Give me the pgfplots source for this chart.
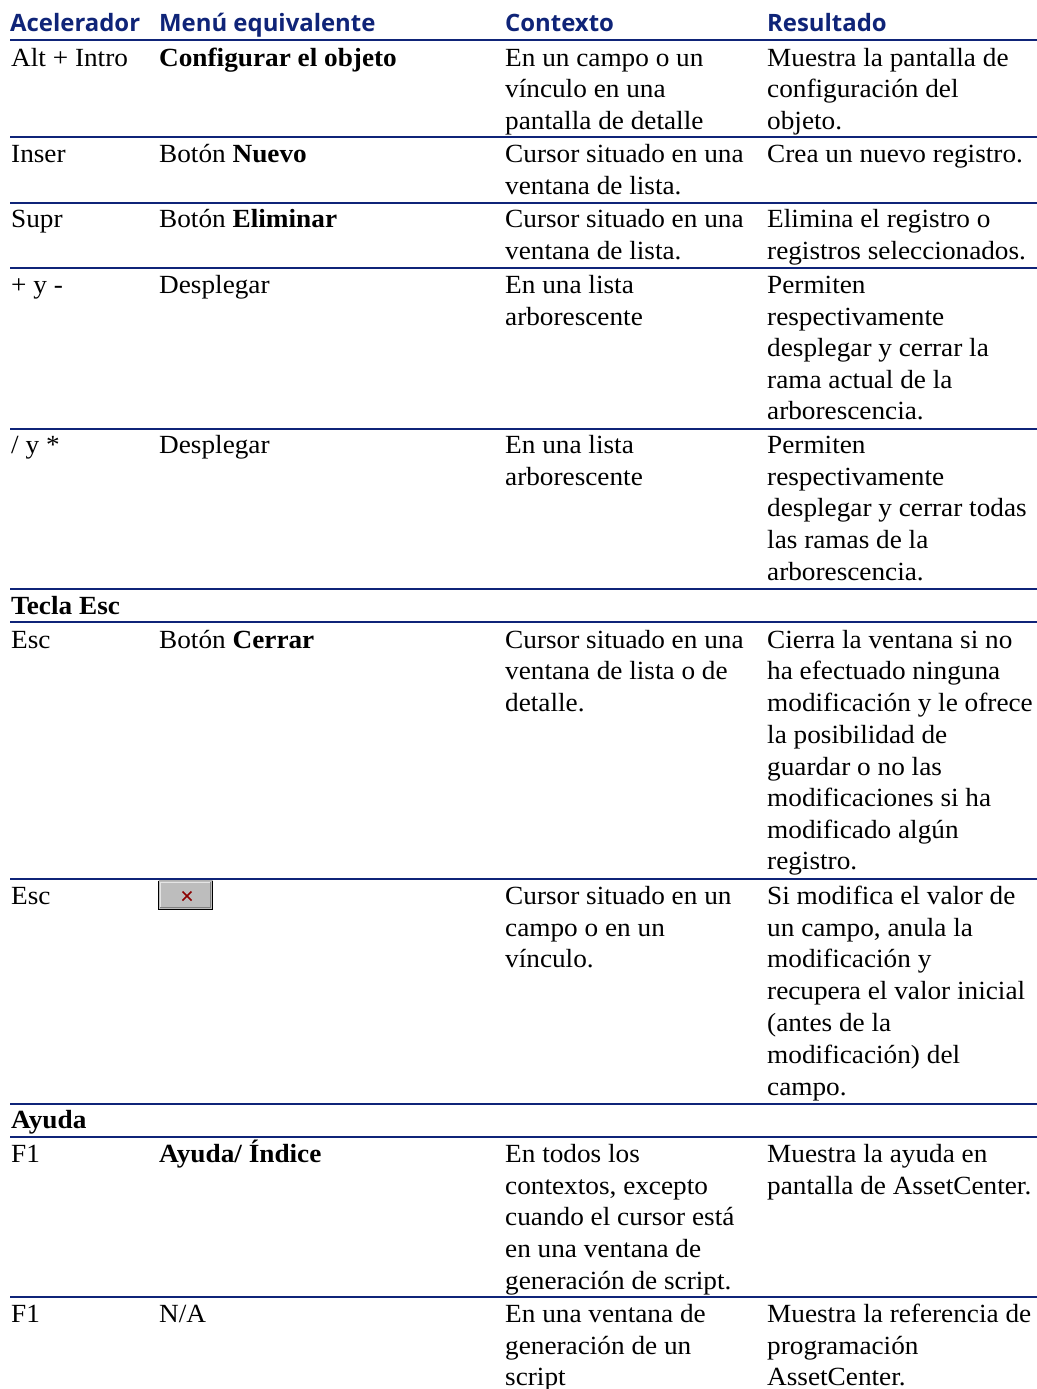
\documentclass[border=0pt]{standalone}
\usepackage{pgfplots}
\pgfplotsset{compat=1.18}
\usepackage{fontspec}
\setmainfont[FakeStretch=1.04]{Liberation Serif}
\newfontfamily\hdfont{Open Sans}
\definecolor{navy}{HTML}{0F2478}
\definecolor{btn}{HTML}{BDBDBD}
\newcommand{\T}[3]{\node[anchor=base west,inner sep=0pt,font=\fontsize{26.3}{30}\selectfont] at (axis cs:#1,#2) {#3};}
\newcommand{\Hd}[2]{\node[anchor=base west,inner sep=0pt,text=navy,font=\hdfont\bfseries\fontsize{24}{30}\selectfont] at (axis cs:#1,32) {#2};}
\newcommand{\Rule}[1]{\addplot[navy,line width=2bp,forget plot] coordinates {(10,#1) (1037,#1)};}
\begin{document}
\begin{tikzpicture}
\useasboundingbox (0,0) rectangle (1037bp,1389bp);
\begin{axis}[at={(0,0)},anchor=south west,scale only axis,width=1037bp,height=1389bp,
 xmin=0,xmax=1037,ymin=0,ymax=1389,y dir=reverse,hide axis,clip=false]
\Rule{40}\Rule{137}\Rule{203}\Rule{268}\Rule{429}\Rule{589}\Rule{622}\Rule{879}\Rule{1104}\Rule{1137}\Rule{1297}
% button
\addplot[draw=none,fill=btn,forget plot] coordinates {(158.5,880.5) (212.5,880.5) (212.5,909.5) (158.5,909.5) (158.5,880.5)};
\addplot[draw=white!90!black,line width=0.8pt,forget plot] coordinates {(160.5,908) (160.5,882) (211,882)};
\addplot[draw=gray,line width=0.8pt,forget plot] coordinates {(160,907.8) (210.8,907.8) (210.8,882)};
\addplot[draw=gray!60,line width=0.8pt,forget plot] coordinates {(158.5,880.5) (212.5,880.5)};
\addplot[draw=black,line width=0.9pt,forget plot] coordinates {(158.5,880.5) (158.5,909.5) (212.5,909.5) (212.5,880.5)};
\addplot[draw=red!55!black,line width=1.7pt,forget plot] coordinates {(182.5,891.5) (191.5,900.5)};
\addplot[draw=red!55!black,line width=1.7pt,forget plot] coordinates {(191.5,891.5) (182.5,900.5)};
% header
\Hd{10}{Acelerador}\Hd{159}{Menú equivalente}\Hd{505}{Contexto}\Hd{767}{Resultado}
% row
\T{11}{66.5}{Alt + Intro}\T{159}{66.5}{\bfseries Configurar el objeto}
\T{505}{66.5}{En un campo o un}\T{505}{98}{vínculo en una}\T{505}{129.5}{pantalla de detalle}
\T{767}{66.5}{Muestra la pantalla de}\T{767}{98}{configuración del}\T{767}{129.5}{objeto.}
% row
\T{11}{163}{Inser}\T{159}{163}{Botón \textbf{Nuevo}}
\T{505}{163}{Cursor situado en una}\T{505}{194.5}{ventana de lista.}\T{767}{163}{Crea un nuevo registro.}
% row
\T{11}{228}{Supr}\T{159}{228}{Botón \textbf{Eliminar}}
\T{505}{228}{Cursor situado en una}\T{505}{259.5}{ventana de lista.}
\T{767}{228}{Elimina el registro o}\T{767}{259.5}{registros seleccionados.}
% row
\T{11}{293}{+ y -}\T{159}{293}{Desplegar}\T{505}{293}{En una lista}\T{505}{325}{arborescente}
\T{767}{293}{Permiten}\T{767}{325}{respectivamente}\T{767}{356.5}{desplegar y cerrar la}\T{767}{388}{rama actual de la}\T{767}{419.5}{arborescencia.}
% row
\T{11}{453}{/ y *}\T{159}{453}{Desplegar}\T{505}{453}{En una lista}\T{505}{485}{arborescente}
\T{767}{453}{Permiten}\T{767}{485}{respectivamente}\T{767}{516}{desplegar y cerrar todas}\T{767}{548}{las ramas de la}\T{767}{580}{arborescencia.}
% section
\T{11}{614}{\bfseries Tecla Esc}
% row
\T{11}{648}{Esc}\T{159}{648}{Botón \textbf{Cerrar}}
\T{505}{648}{Cursor situado en una}\T{505}{679.5}{ventana de lista o de}\T{505}{711}{detalle.}
\T{767}{648}{Cierra la ventana si no}\T{767}{679.5}{ha efectuado ninguna}\T{767}{711}{modificación y le ofrece}\T{767}{743}{la posibilidad de}\T{767}{775}{guardar o no las}\T{767}{806}{modificaciones si ha}\T{767}{838}{modificado algún}\T{767}{869}{registro.}
% row
\T{11}{904}{Esc}\T{505}{904}{Cursor situado en un}\T{505}{936}{campo o en un}\T{505}{967}{vínculo.}
\T{767}{904}{Si modifica el valor de}\T{767}{936}{un campo, anula la}\T{767}{967}{modificación y}\T{767}{999}{recupera el valor inicial}\T{767}{1031}{(antes de la}\T{767}{1063}{modificación) del}\T{767}{1095}{campo.}
% section
\T{11}{1128}{\bfseries Ayuda}
% row
\T{11}{1162}{F1}\T{159}{1162}{\bfseries Ayuda/ Índice}
\T{505}{1162}{En todos los}\T{505}{1194}{contextos, excepto}\T{505}{1225}{cuando el cursor está}\T{505}{1257}{en una ventana de}\T{505}{1289}{generación de script.}
\T{767}{1162}{Muestra la ayuda en}\T{767}{1194}{pantalla de AssetCenter.}
% row
\T{11}{1322}{F1}\T{159}{1322}{N/A}
\T{505}{1322}{En una ventana de}\T{505}{1354}{generación de un}\T{505}{1385}{script}
\T{767}{1322}{Muestra la referencia de}\T{767}{1354}{programación}\T{767}{1385}{AssetCenter.}
\end{axis}
\end{tikzpicture}
\end{document}
